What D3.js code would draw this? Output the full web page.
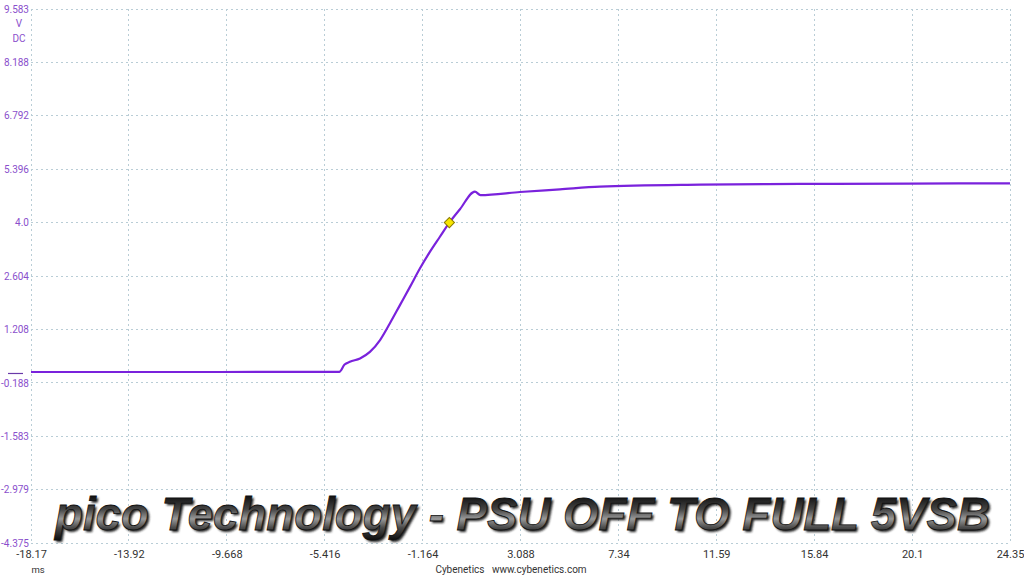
<!DOCTYPE html>
<html><head><meta charset="utf-8">
<script src="https://cdn.jsdelivr.net/npm/d3@7"></script>
<style>html,body{margin:0;padding:0;background:#fff;overflow:hidden}</style>
</head><body>
<svg id="c" width="1024" height="576"></svg>
<script>
// ---- data ----
const timeMs  = [-18.17, -10, -4.78, -4.55, -4.32, -3.88, -3.45, -3.01, -2.58, -2.14, -1.71, -1.28, -0.84, -0.41, 0.0, 0.46, 1.11, 1.35, 3.07, 4.80, 6.54, 10.9, 15.2, 20.0, 24.35];
const voltsDC = [0.095, 0.095, 0.10, 0.29, 0.36, 0.45, 0.62, 0.93, 1.37, 1.85, 2.32, 2.80, 3.24, 3.63, 4.0, 4.35, 4.81, 4.72, 4.80, 4.87, 4.94, 4.99, 5.01, 5.02, 5.027];
const xTicks = [-18.17, -13.92, -9.668, -5.416, -1.164, 3.088, 7.34, 11.59, 15.84, 20.1, 24.35];
const xTickLabels = ["-18.17","-13.92","-9.668","-5.416","-1.164","3.088","7.34","11.59","15.84","20.1","24.35"];
const yTicks = [9.583, 8.188, 6.792, 5.396, 4.0, 2.604, 1.208, -0.188, -1.583, -2.979, -4.375];
const yTickLabels = ["9.583","8.188","6.792","5.396","4.0","2.604","1.208","-0.188","-1.583","-2.979","-4.375"];
const trigger = {t: 0.0, v: 4.0};
const titleText = "pico Technology - PSU OFF TO FULL 5VSB";
const footerText = "Cybenetics   www.cybenetics.com";

const svg = d3.select("#c");
const L = 31, R = 1010, T = 9, B = 543;
const x = d3.scaleLinear().domain([-18.17, 24.35]).range([L, R]);
const y = d3.scaleLinear().domain([-4.375, 9.583]).range([B, T]);

const gridColor = "#b9cdd6";
const fontF = "Roboto, 'Noto Sans', sans-serif";
// grid
const g = svg.append("g");
g.selectAll(".vg").data(xTicks).join("line")
  .attr("x1", d => x(d)).attr("x2", d => x(d)).attr("y1", T).attr("y2", B)
  .attr("stroke", gridColor).attr("stroke-width", 1).attr("stroke-dasharray", "2,3").attr("shape-rendering","crispEdges");
g.selectAll(".hg").data(yTicks).join("line")
  .attr("x1", L).attr("x2", R).attr("y1", d => y(d)).attr("y2", d => y(d))
  .attr("stroke", gridColor).attr("stroke-width", 1).attr("stroke-dasharray", "2,3").attr("shape-rendering","crispEdges");

// axes (labels only)
const xAxis = d3.axisBottom(x).tickValues(xTicks).tickFormat((d,i) => xTickLabels[i]).tickSize(0).tickPadding(0);
const xa = svg.append("g").attr("transform", `translate(0,${B + 5})`).call(xAxis);
xa.select(".domain").remove();
xa.selectAll("text").attr("font-family", fontF).attr("font-size", 11).attr("fill", "#333").attr("dy", "0.9em");

const yAxis = d3.axisLeft(y).tickValues(yTicks).tickFormat((d,i) => yTickLabels[i]).tickSize(0).tickPadding(0);
const ya = svg.append("g").attr("transform", `translate(${L - 2},0)`).call(yAxis);
ya.select(".domain").remove();
ya.selectAll("text").attr("font-family", fontF).attr("font-size", 10).attr("fill", "#8a4fcc");

// unit labels
svg.append("text").attr("x", 19).attr("y", 27).attr("text-anchor","middle").attr("font-family", fontF).attr("font-size", 10).attr("fill", "#8a4fcc").text("V");
svg.append("text").attr("x", 19).attr("y", 42).attr("text-anchor","middle").attr("font-family", fontF).attr("font-size", 10).attr("fill", "#8a4fcc").text("DC");
svg.append("text").attr("x", 38).attr("y", 573).attr("text-anchor","middle").attr("font-family", fontF).attr("font-size", 9.5).attr("fill", "#333").text("ms");
svg.append("text").attr("x", 511).attr("y", 573).attr("text-anchor","middle").attr("font-family", fontF).attr("font-size", 10).attr("fill", "#333").style("white-space","pre").text(footerText);

// zero offset marker
svg.append("line").attr("x1", 8).attr("x2", 23).attr("y1", y(0.095) + 1.5).attr("y2", y(0.095) + 1.5)
  .attr("stroke", "#6a3aa8").attr("stroke-width", 1.2);

// trace
const data = timeMs.map((t, i) => ({t, v: voltsDC[i]}));
const line = d3.line().x(d => x(d.t)).y(d => y(d.v)).curve(d3.curveMonotoneX);
svg.append("path").datum(data).attr("d", line).attr("fill", "none")
  .attr("stroke", "#7a22dc").attr("stroke-width", 2.2).attr("stroke-linejoin", "round");

// trigger marker
const tx = x(trigger.t), ty = y(trigger.v);
svg.append("path").attr("d", d3.symbol().type(d3.symbolSquare).size(52)())
  .attr("transform", `translate(${tx},${ty}) rotate(45)`)
  .attr("fill", "#f7e500").attr("stroke", "#8a7a00").attr("stroke-width", 1);

// title with metallic effect
const defs = svg.append("defs");
const grad = defs.append("linearGradient").attr("id", "metal").attr("gradientUnits", "userSpaceOnUse")
  .attr("x1", 0).attr("y1", 496).attr("x2", 0).attr("y2", 540);
[["0%","#111"],["30%","#444"],["52%","#999"],["72%","#4a4a4a"],["100%","#0d0d0d"]]
  .forEach(([o,c]) => grad.append("stop").attr("offset", o).attr("stop-color", c));
const blur = defs.append("filter").attr("id", "sh").attr("x","-5%").attr("y","-20%").attr("width","110%").attr("height","140%");
blur.append("feGaussianBlur").attr("stdDeviation", 1.2);

const titleAttrs = sel => sel.attr("x", 55).attr("y", 530)
  .attr("font-family", "'Liberation Sans', Arial, sans-serif").attr("font-weight", "bold").attr("font-style", "italic")
  .attr("font-size", 46).attr("textLength", 935).attr("lengthAdjust", "spacingAndGlyphs").text(titleText);
svg.append("text").call(titleAttrs).attr("transform", "translate(2,2)").attr("fill", "#222").attr("filter", "url(#sh)");
svg.append("text").call(titleAttrs).attr("fill", "url(#metal)").attr("stroke", "#111").attr("stroke-width", 0.8);
</script>
</body></html>
